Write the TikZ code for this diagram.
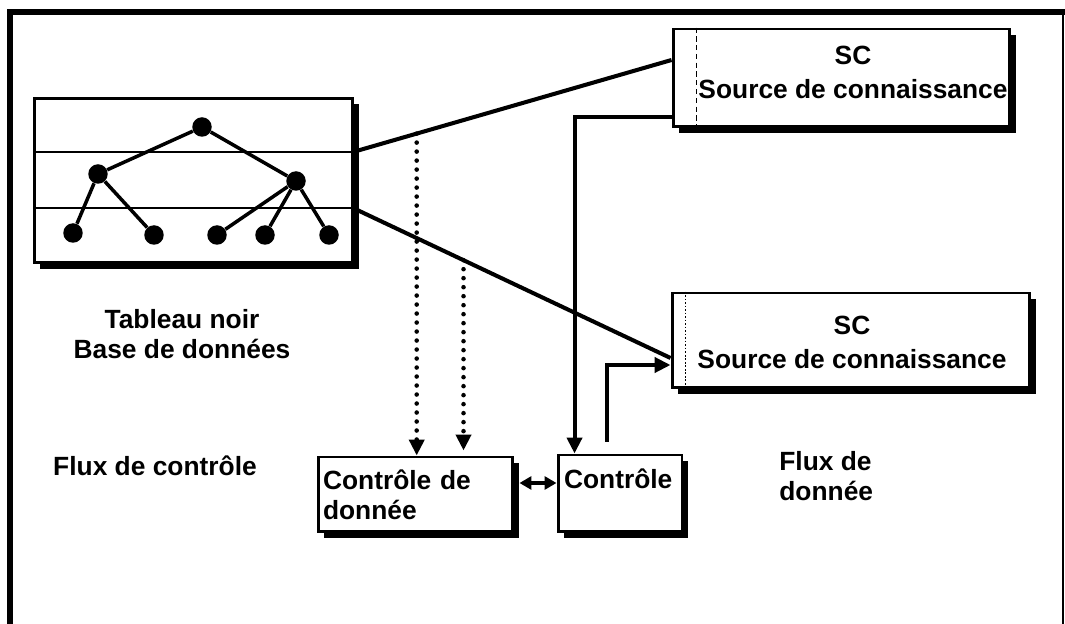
\documentclass[tikz,border=0pt]{standalone}
\usepackage{fontspec}
\setmainfont{Liberation Sans}
\usetikzlibrary{arrows.meta, calc, shadows, positioning}

\begin{document}
\begin{tikzpicture}[x=0.02cm, y=-0.02cm, >={Triangle[length=0.32cm, width=0.3cm]},
    font=\fontsize{15pt}{17pt}\selectfont\bfseries,
    box/.style={draw, line width=1.7pt, fill=white, inner sep=0,
        drop shadow={shadow xshift=0.12cm, shadow yshift=-0.12cm, opacity=1, fill=black}},
    dot/.style={circle, fill=black, inner sep=0, minimum size=0.39cm},
    conn/.style={line width=2.3pt},
    flow/.style={line width=2.6pt, line cap=round, dash pattern=on 0pt off 0.18cm},
    txt/.style={inner sep=0, align=center},
    sctxt/.style={txt, font=\fontsize{15pt}{19pt}\selectfont\bfseries}]
    \useasboundingbox (0,0) rectangle (1065,624);

    % Outer frame
    \draw[line width=3.4pt] (10,624) -- (10,12) -- (1065,12);
    \draw[line width=1pt] (1063,12) -- (1063,624);

    % Blackboard with its three levels
    \node[box, minimum width=6.38cm, minimum height=3.3cm] (bb) at (193.5,180.5) {};
    \coordinate (d1w) at (34,152);
    \coordinate (d1e) at (353,152);
    \coordinate (d2w) at (34,208);
    \coordinate (d2e) at (353,208);
    \draw[line width=1.4pt] (d1w) -- (d1e);
    \draw[line width=1.4pt] (d2w) -- (d2e);

    % Tree on the blackboard
    \node[dot] (root) at (202,127) {};
    \node[dot] (n1) at (98,174) {};
    \node[dot] (n2) at (296,181) {};
    \node[dot] (f1) at (73,233) {};
    \node[dot] (f2) at (154,235) {};
    \node[dot] (f3) at (217,235) {};
    \node[dot] (f4) at (265,235) {};
    \node[dot] (f5) at (329,235) {};
    \draw[line width=2pt] (root) -- (n1) (root) -- (n2);
    \draw[line width=2pt] (n1) -- (f1) (n1) -- (f2);
    \draw[line width=2pt] (n2) -- (f3) (n2) -- (f4) (n2) -- (f5);

    \node[txt] (bbname) at (182,334) {Tableau noir\\Base de données};
    \node[txt] (ctlflux) at (155,466) {Flux de contrôle};
    \node[txt, align=left, anchor=west] (dataflux) at (779,476) {Flux de\\donnée};

    % Knowledge sources
    \node[box, minimum width=6.74cm, minimum height=1.96cm] (sc1) at (841.5,78) {};
    \node[sctxt] (sc1txt) at (853,72.5) {SC\\Source de connaissance};
    \draw[densely dashed, line width=0.7pt] ($(sc1.north west)+(25,0)$) -- ($(sc1.south west)+(25,0)$);

    \node[box, minimum width=7.16cm, minimum height=1.9cm] (sc2) at (851,340.5) {};
    \node[sctxt] (sc2txt) at (852,342.5) {SC\\Source de connaissance};
    \draw[densely dotted, line width=1pt] ($(sc2.north west)+(15,0)$) -- ($(sc2.south west)+(15,0)$);

    % Control
    \node[box, minimum width=3.9cm, minimum height=1.5cm, inner xsep=0.1cm,
        text width=3.7cm, align=left] (cdd) at (415.5,494.5) {Contrôle de\\donnée};
    \node[box, minimum width=2.48cm, minimum height=1.54cm, inner xsep=0.12cm,
        text width=2.24cm, align=left] (ctl) at (620,493.5) {Contrôle\\\mbox{}};

    % Data flow
    \draw[conn] (d1e) -- coordinate[pos=0.2] (fa) (sc1.west |- 0,60);
    \draw[conn] (d2e) -- coordinate[pos=0.348] (fb) (sc2.west |- 0,358);

    % Control flow
    \draw[flow, ->] (fa) -- (fa |- cdd.north);
    \draw[flow, ->] (fb) -- ($(fb |- cdd.north)+(0,-5)$);
    \draw[conn, ->] (sc1.west |- 0,117) -| ($(ctl.north west)+(18,0)$);
    \draw[conn, ->] ($(ctl.north west)+(50,-12)$) |- (sc2.west |- 0,365);
    \draw[line width=1.8pt, {Triangle[length=0.24cm, width=0.26cm]}-{Triangle[length=0.24cm, width=0.26cm]}]
        ($(cdd.east |- 0,483)+(5,0)$) -- (ctl.west |- 0,483);
\end{tikzpicture}
\end{document}
